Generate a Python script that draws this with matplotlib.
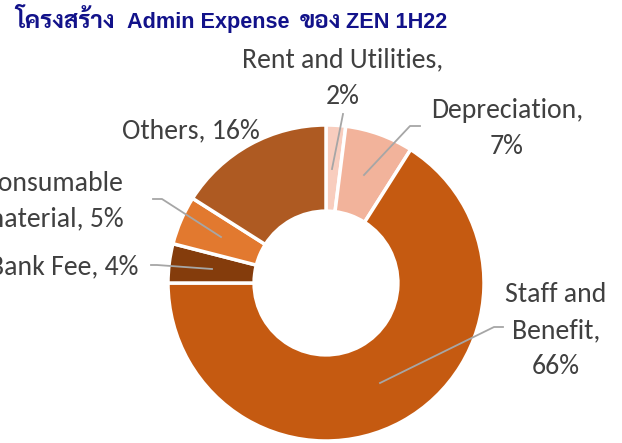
import matplotlib
matplotlib.use("Agg")
import matplotlib.pyplot as plt
from matplotlib import font_manager

categories = ["Rent and Utilities", "Depreciation", "Staff and Benefit", "Bank Fee", "Consumable material", "Others"]
values = [2, 7, 66, 4, 5, 16]
label_texts = ["Rent and Utilities,\n2%", "Depreciation,\n7%", "Staff and\nBenefit,\n66%",
               "Bank Fee, 4%", "Consumable\nmaterial, 5%", "Others, 16%"]
colors = ["#F8CDBE", "#F2B39B", "#C55A11", "#843C0C", "#E2792F", "#AE5A22"]
title_parts = ["โครงสร้าง", "Admin Expense", "ของ", "ZEN 1H22"]

fl = font_manager.fontManager.ttflist
names = {f.name for f in fl}
bold_names = {f.name for f in fl if (f.weight == 700 or f.weight == "bold")}
thai_pref = ["Noto Sans Thai Looped", "Noto Sans Thai", "Sarabun", "Bai Jamjuree", "Athiti", "Anuphan"]
thai_font = next((n for n in thai_pref if n in bold_names), None) or \
    next((n for n in thai_pref if n in names), "Anuphan")
label_font = ["Carlito", "Open Sans", "DejaVu Sans"] if "Carlito" in names else ["Open Sans", "DejaVu Sans"]
fs = 20 if "Carlito" in names else 17.5

W, H = 622, 443
fig = plt.figure(figsize=(W / 100, H / 100), dpi=100)
ax = fig.add_axes([0, 0, 1, 1])

cx, cy, R = 326, 283, 158
ax.pie(values, colors=colors, startangle=-90, counterclock=True,
       center=(cx, cy), radius=R, frame=True,
       wedgeprops=dict(width=R * 0.545, edgecolor="white", linewidth=2.5))
ax.set_xlim(0, W)
ax.set_ylim(H, 0)
ax.set_aspect("equal")
ax.axis("off")

tc = "#404040"
lc = "#A6A6A6"

specs = [
    (343, 78, "center", [(332, 169), (343, 114)]),
    (507, 128, "center", [(364, 175), (410, 126), (420, 126)]),
    (556, 331, "center", [(380, 383), (494, 327), (503, 327)]),
    (138, 267, "right", [(212, 269), (157, 265), (151, 265)]),
    (124, 201, "right", [(221, 237), (162, 199), (153, 199)]),
    (191, 131, "center", None),
]
for txt, (x, y, ha, pts) in zip(label_texts, specs):
    ax.text(x, y, txt, ha=ha, va="center", color=tc, fontsize=fs, family=label_font,
            linespacing=1.55, multialignment="center", clip_on=False)
    if pts:
        xs, ys = zip(*pts)
        ax.plot(xs, ys, color=lc, lw=1.3)

title_color = "#12128A"
title_x = [15, 127, 300, 346]
for part, x in zip(title_parts, title_x):
    is_thai = any("\u0e00" <= ch <= "\u0e7f" for ch in part)
    fam = [thai_font, "DejaVu Sans"] if is_thai else ["Liberation Sans", "DejaVu Sans"]
    ax.text(x, 28, part, ha="left", va="baseline", color=title_color,
            fontsize=17.5 if is_thai else 15.6, fontweight="bold", family=fam)

fig.savefig("out.png", dpi=100)
